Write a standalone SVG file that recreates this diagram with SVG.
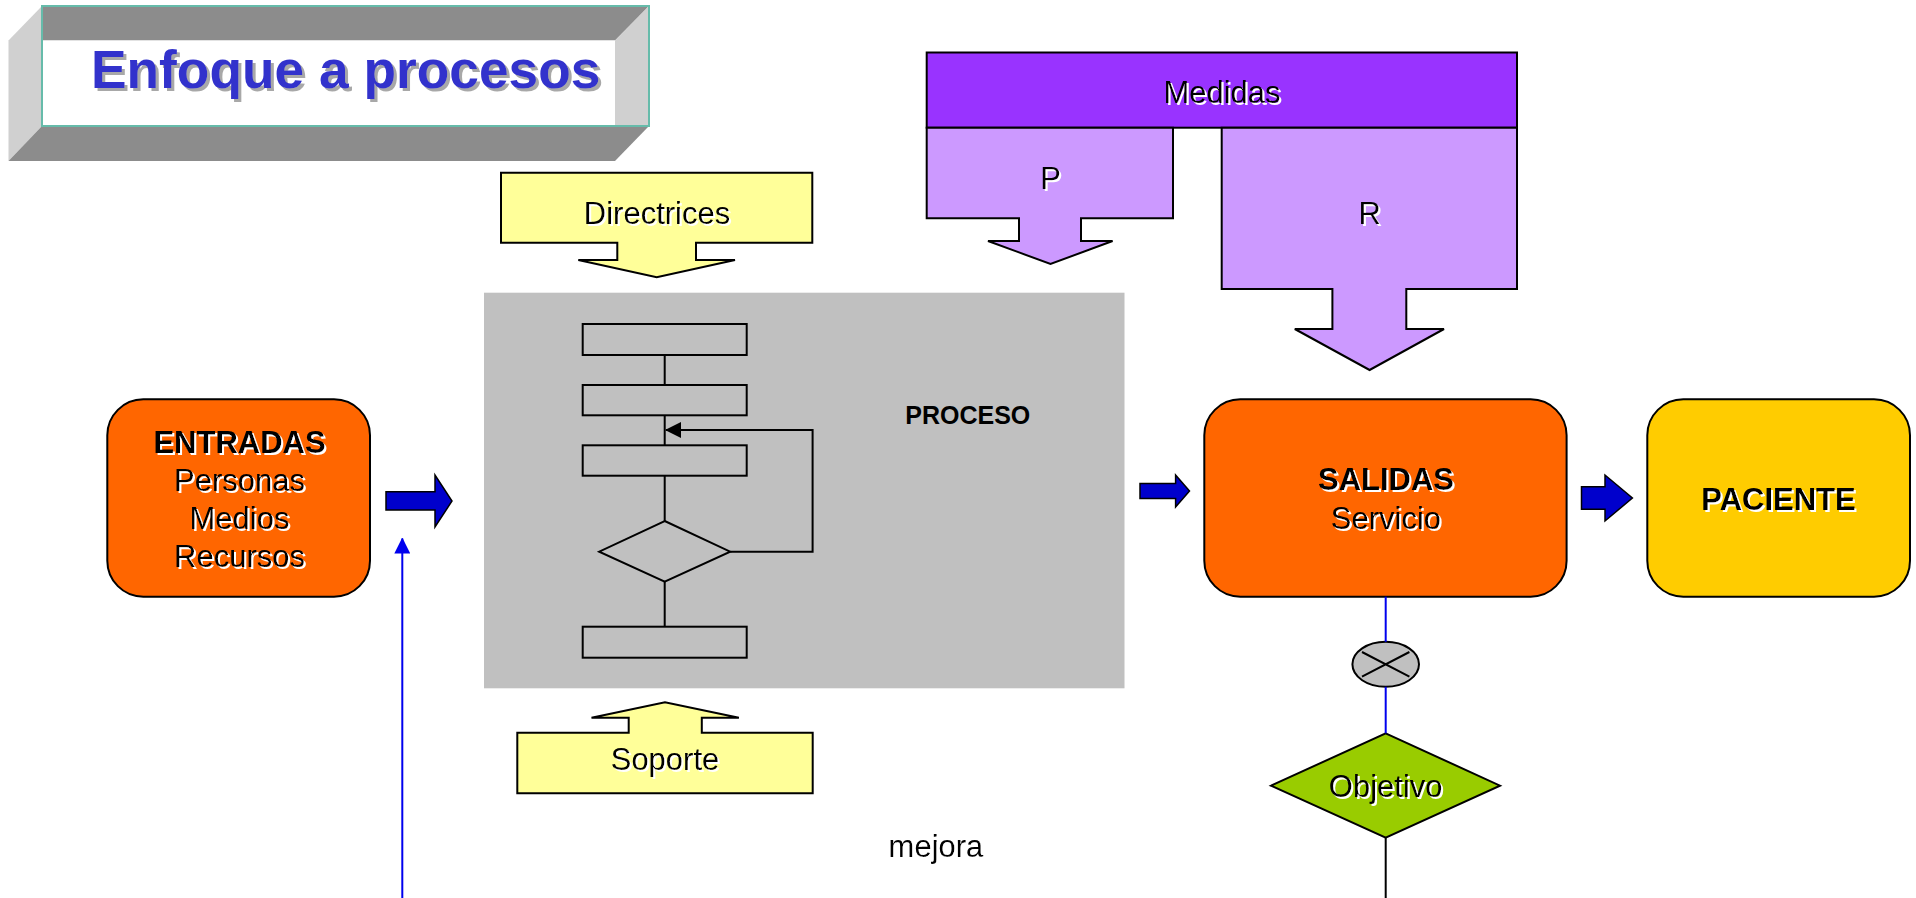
<svg xmlns="http://www.w3.org/2000/svg" width="1916" height="898" viewBox="0 0 1916 898">
  <defs>
    <filter id="lightShadow" x="-10%" y="-20%" width="130%" height="150%">
      <feFlood flood-color="#ffffff" result="c"/>
      <feComposite in="c" in2="SourceAlpha" operator="in" result="s"/>
      <feOffset in="s" dx="2" dy="2" result="o"/>
      <feMerge><feMergeNode in="o"/><feMergeNode in="SourceGraphic"/></feMerge>
    </filter>
    <filter id="titleShadow" x="-10%" y="-20%" width="130%" height="150%">
      <feFlood flood-color="#a8a8a8" result="c"/>
      <feComposite in="c" in2="SourceAlpha" operator="in" result="s"/>
      <feOffset in="s" dx="3" dy="3" result="o"/>
      <feMerge><feMergeNode in="o"/><feMergeNode in="SourceGraphic"/></feMerge>
    </filter>
    <marker id="upHead" viewBox="0 0 16 16" refX="15" refY="8" markerWidth="16" markerHeight="16" markerUnits="userSpaceOnUse" orient="auto">
      <path d="M0,0 L16,8 L0,16 Z" fill="#0000ee"/>
    </marker>
    <marker id="loopHead" viewBox="0 0 16 16" refX="15" refY="8" markerWidth="16" markerHeight="16" markerUnits="userSpaceOnUse" orient="auto">
      <path d="M0,0 L16,8 L0,16 Z" fill="#000"/>
    </marker>
  </defs>
  <style>
    text { font-family: "Liberation Sans", Arial, sans-serif; fill: #000; }
    .lbl { font-size: 31px; text-anchor: middle; filter: url(#lightShadow); }
    .bold { font-weight: bold; }
    .box { stroke: #000; stroke-width: 2; }
    .flow { fill: #c0c0c0; stroke: #000; stroke-width: 2; }
    .line { fill: none; stroke: #000; stroke-width: 2; }
    .blue-arrow { fill: #0000cc; stroke: #000; stroke-width: 1.5; stroke-linejoin: miter; }
    .blue-line { fill: none; stroke: #0000ee; stroke-width: 2; }
  </style>

  <rect width="1916" height="898" fill="#fff"/>

  <!-- Title plate -->
  <g id="title">
    <polygon points="42,6 649,6 615,40.5 42,40.5" fill="#8c8c8c"/>
    <polygon points="8.5,40.5 42,6 42,126 8.5,161" fill="#d0d0d0"/>
    <polygon points="615,40.5 649,6 649,126 615,126" fill="#d0d0d0"/>
    <polygon points="8.5,161 615,161 649,126 42,126" fill="#8c8c8c"/>
    <rect x="42" y="40.5" width="573" height="85.5" fill="#fff"/>
    <rect x="42" y="6" width="607" height="120" fill="none" stroke="#66bbaa" stroke-width="2"/>
    <text x="91" y="88" font-size="53.3" font-weight="bold" style="fill:#3333cc" filter="url(#titleShadow)">Enfoque a procesos</text>
  </g>

  <!-- Measures -->
  <g id="medidas">
    <rect class="box" x="926.7" y="52.5" width="590.3" height="75.2" fill="#9933ff"/>
    <text class="lbl" x="1222" y="102.5">Medidas</text>
  </g>
  <g id="medida-p">
    <path class="box" fill="#cc99ff" d="M926.7,127.7 H1173 V218.3 H1081 V241 H1112.6 L1050.5,264 L988,241 H1019 V218.3 H926.7 Z"/>
    <text class="lbl" x="1050.5" y="189">P</text>
  </g>
  <g id="medida-r">
    <path class="box" fill="#cc99ff" d="M1221.7,127.7 H1517 V289 H1406.3 V329 H1444 L1369.6,370 L1294.8,329 H1332.4 V289 H1221.7 Z"/>
    <text class="lbl" x="1369.6" y="224.3">R</text>
  </g>

  <!-- Guidelines and support -->
  <g id="directrices">
    <path class="box" fill="#ffff99" d="M501,172.7 H812.3 V242.7 H696 V260 H735 L656.7,277.3 L578.3,260 H617.3 V242.7 H501 Z"/>
    <text class="lbl" x="657" y="224.3">Directrices</text>
  </g>
  <g id="soporte">
    <path class="box" fill="#ffff99" d="M517.3,732.7 H628.7 V717.7 H591.5 L665,702.3 L738.9,717.7 H701.8 V732.7 H812.7 V793.3 H517.3 Z"/>
    <text class="lbl" x="665" y="770">Soporte</text>
  </g>

  <!-- Process block with inner flowchart -->
  <g id="proceso">
    <rect x="484" y="292.7" width="640.5" height="395.6" fill="#c0c0c0"/>
    <text x="967.8" y="424.3" font-size="25" font-weight="bold" text-anchor="middle">PROCESO</text>
  </g>
  <g id="flow-step-1"><rect class="flow" x="582.7" y="324" width="164" height="31"/></g>
  <g id="flow-step-2"><rect class="flow" x="582.7" y="385" width="164" height="30.3"/></g>
  <g id="flow-step-3"><rect class="flow" x="582.7" y="445.3" width="164" height="30.4"/></g>
  <g id="flow-decision"><polygon class="flow" points="664.7,521 730.2,551.7 664.7,581.7 599.2,551.7"/></g>
  <g id="flow-step-4"><rect class="flow" x="582.7" y="626.7" width="164" height="31"/></g>

  <!-- Entries / outputs / patient -->
  <g id="entradas">
    <rect class="box" x="107.3" y="399.3" width="262.7" height="197.4" rx="36" fill="#ff6600"/>
    <text class="lbl bold" x="239.5" y="453.3">ENTRADAS</text>
    <text class="lbl" x="239.5" y="491">Personas</text>
    <text class="lbl" x="239.5" y="529.3">Medios</text>
    <text class="lbl" x="239.5" y="566.7">Recursos</text>
  </g>
  <g id="salidas">
    <rect class="box" x="1204.3" y="399.3" width="362.3" height="197.4" rx="36" fill="#ff6600"/>
    <text class="lbl bold" x="1386" y="490">SALIDAS</text>
    <text class="lbl" x="1386" y="529.3">Servicio</text>
  </g>
  <g id="paciente">
    <rect class="box" x="1647.3" y="399.3" width="262.7" height="197.4" rx="36" fill="#ffcc00"/>
    <text class="lbl bold" x="1778.5" y="510">PACIENTE</text>
  </g>

  <!-- Comparison and objective -->
  <g id="comparador">
    <ellipse cx="1385.7" cy="664.3" rx="33.3" ry="22.5" fill="#c0c0c0" stroke="#000" stroke-width="2"/>
    <path class="line" d="M1362,652 L1409.4,676.6 M1362,676.6 L1409.4,652"/>
  </g>
  <g id="objetivo">
    <polygon class="box" fill="#99cc00" points="1385.7,733.3 1500,785.7 1385.7,837.7 1271,785.7"/>
    <text class="lbl" x="1385.7" y="797.3">Objetivo</text>
  </g>
  <g id="mejora">
    <text class="lbl" x="936" y="856.7">mejora</text>
  </g>

  <!-- Connectors -->
  <g id="connectors">
    <path class="blue-arrow" d="M386,491.7 H435 V475 L452,501 L435,527 V510 H386 Z"/>
    <path class="blue-arrow" d="M1140,483.5 H1175.6 V475 L1189.5,491 L1175.6,507 V498.5 H1140 Z"/>
    <path class="blue-arrow" d="M1581.5,486.7 H1605 V475 L1632.4,498 L1605,521 V509.3 H1581.5 Z"/>
    <line class="blue-line" x1="402.3" y1="898" x2="402.3" y2="538.5" marker-end="url(#upHead)"/>
    <line class="blue-line" x1="1385.7" y1="596.7" x2="1385.7" y2="641.8"/>
    <line class="blue-line" x1="1385.7" y1="686.8" x2="1385.7" y2="733.3"/>
    <line class="line" x1="1385.7" y1="837.7" x2="1385.7" y2="898"/>
    <path class="line" d="M664.7,355 V385 M664.7,415.3 V445.3 M664.7,475.7 V521 M664.7,581.7 V626.7"/>
    <path class="line" d="M730.2,551.7 H812.6 V430 H666" marker-end="url(#loopHead)"/>
  </g>
</svg>
